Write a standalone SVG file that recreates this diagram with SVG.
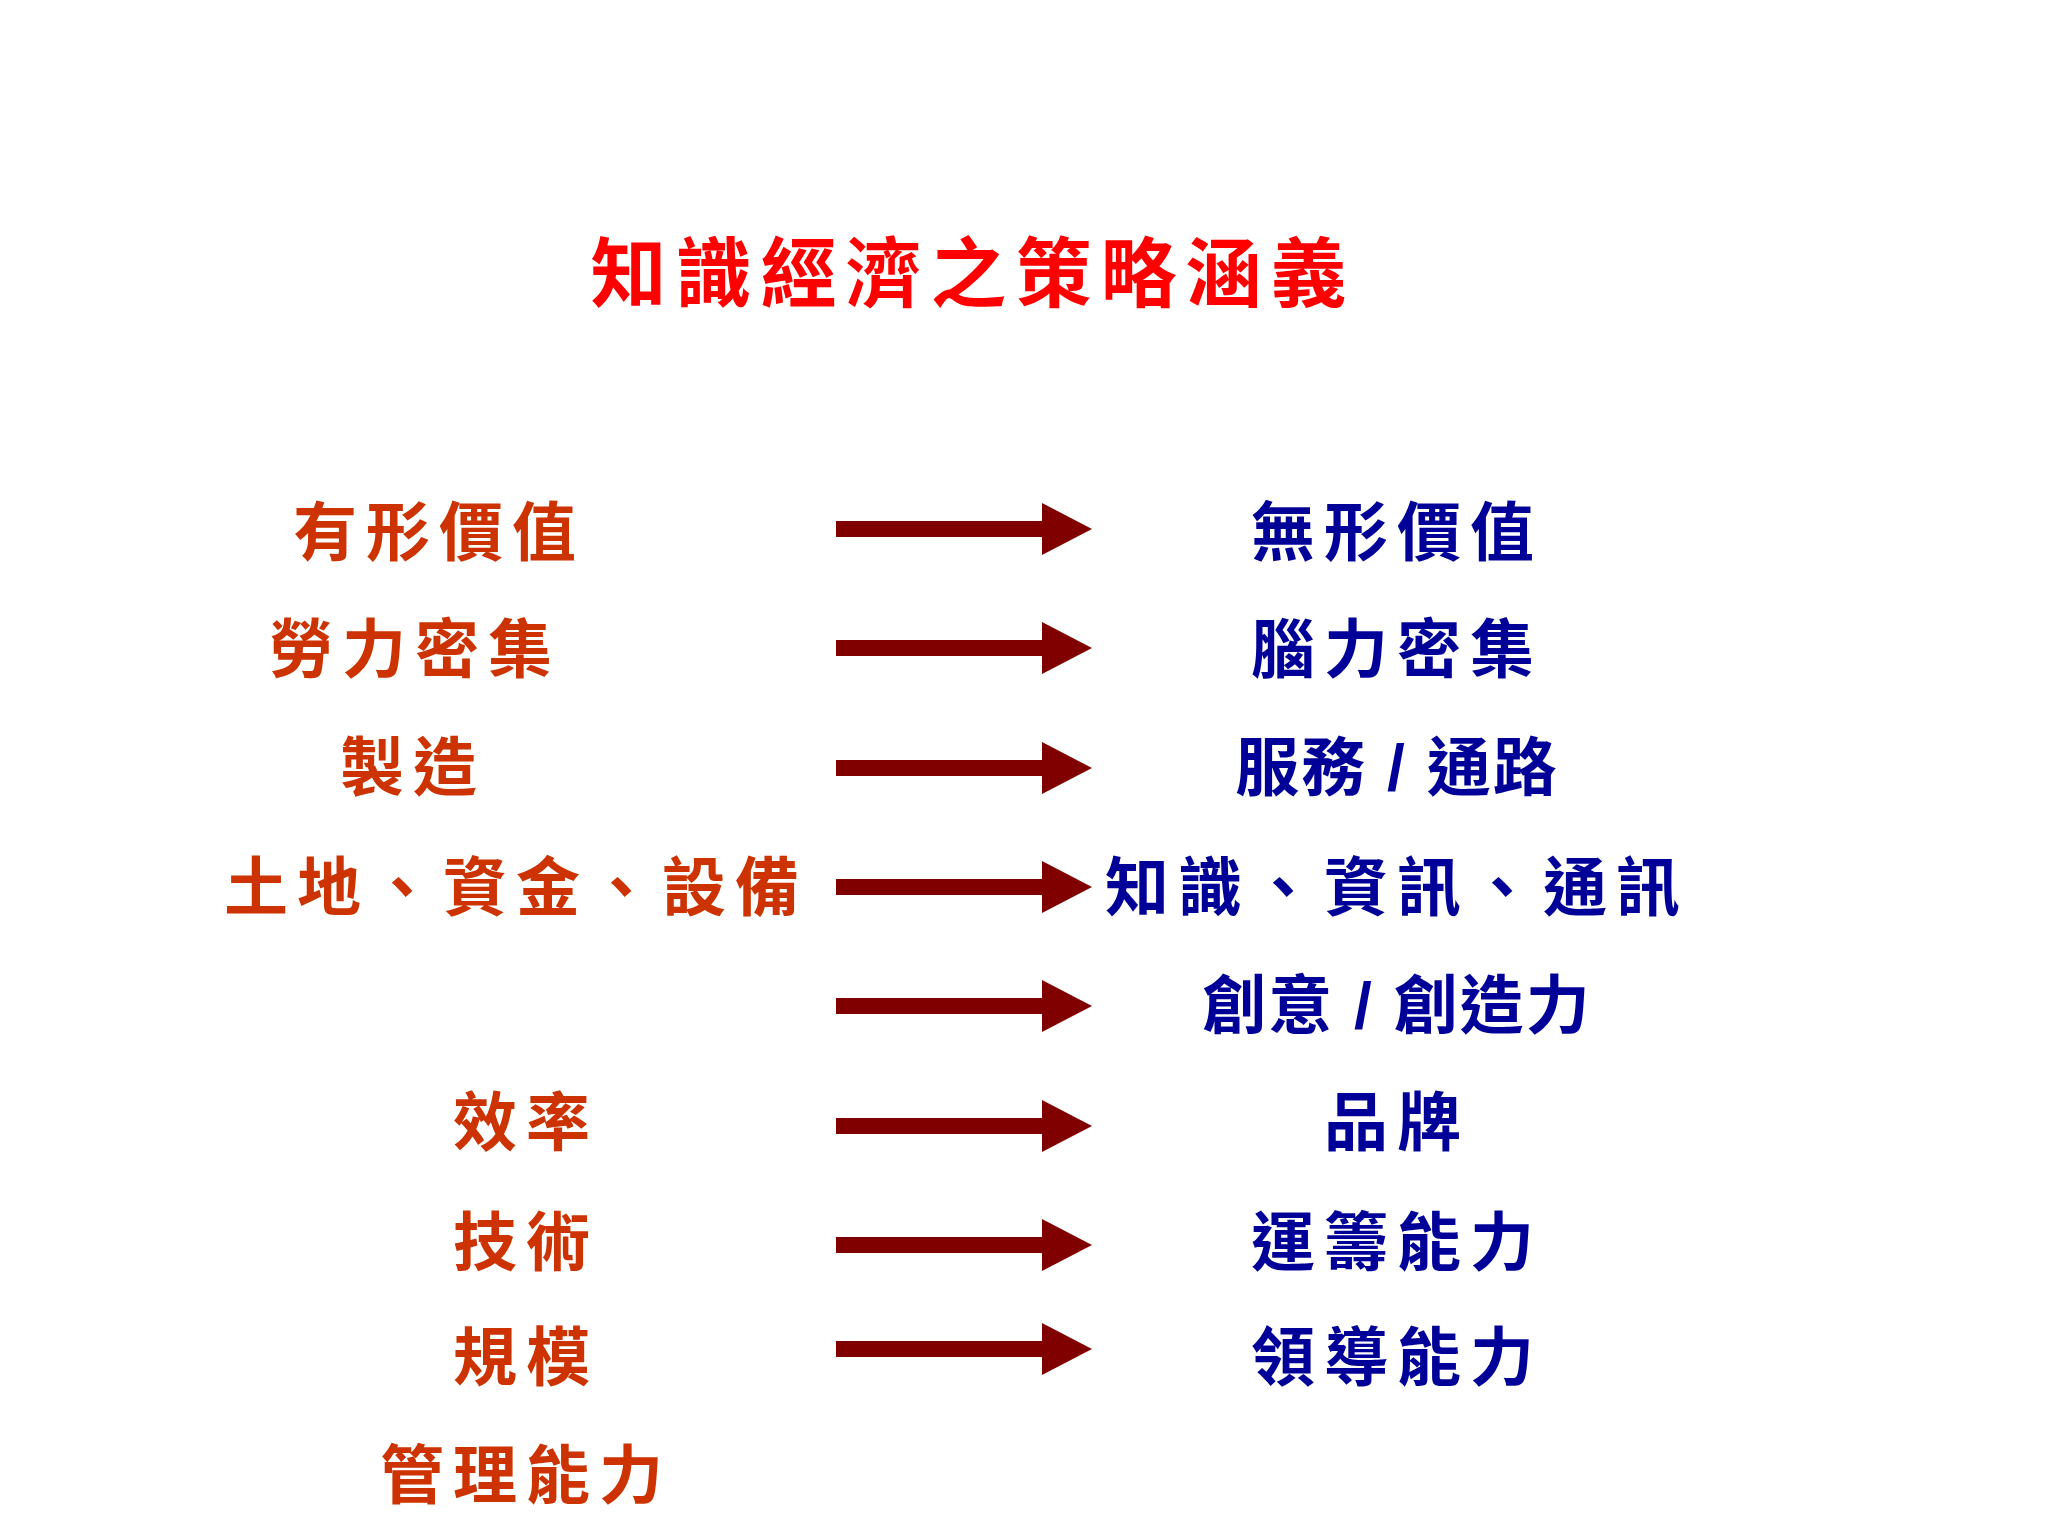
<svg xmlns="http://www.w3.org/2000/svg" width="2048" height="1536" viewBox="0 0 2048 1536">
<style>
text{font-family:"Liberation Sans","Noto Sans CJK TC",sans-serif;font-weight:bold;text-anchor:middle;dominant-baseline:central}
.t{fill:#FF0000;font-size:76px;letter-spacing:9px}
.l{fill:#CC3300;font-size:64px;letter-spacing:9px}
.r{fill:#000099;font-size:64px;letter-spacing:9px}
.s{letter-spacing:2px}
.a{fill:#800000}
</style>
<defs><path id="ar" class="a" d="M836,-8 H1042 V-26 L1092,0 L1042,26 V8 H836 Z"/></defs>
<rect width="2048" height="1536" fill="#fff"/>
<text class="t" x="973" y="274">知識經濟之策略涵義</text>
<g id="left">
<text class="l" x="439" y="533">有形價值</text>
<text class="l" x="415" y="650">勞力密集</text>
<text class="l" x="413" y="768">製造</text>
<text class="l" x="516" y="888">土地、資金、設備</text>
<text class="l" x="526" y="1123">效率</text>
<text class="l" x="526" y="1243">技術</text>
<text class="l" x="526" y="1358">規模</text>
<text class="l" x="526" y="1476">管理能力</text>
</g>
<g id="right">
<text class="r" x="1397" y="533">無形價值</text>
<text class="r" x="1397" y="650">腦力密集</text>
<text class="r s" x="1397" y="768">服務 / 通路</text>
<text class="r" x="1397" y="888">知識、資訊、通訊</text>
<text class="r s" x="1397" y="1006">創意 / 創造力</text>
<text class="r" x="1397" y="1123">品牌</text>
<text class="r" x="1397" y="1243">運籌能力</text>
<text class="r" x="1397" y="1358">領導能力</text>
</g>
<g id="connectors">
<use href="#ar" y="529"/>
<use href="#ar" y="648"/>
<use href="#ar" y="768"/>
<use href="#ar" y="887"/>
<use href="#ar" y="1006"/>
<use href="#ar" y="1126"/>
<use href="#ar" y="1245"/>
<use href="#ar" y="1349"/>
</g>
</svg>
